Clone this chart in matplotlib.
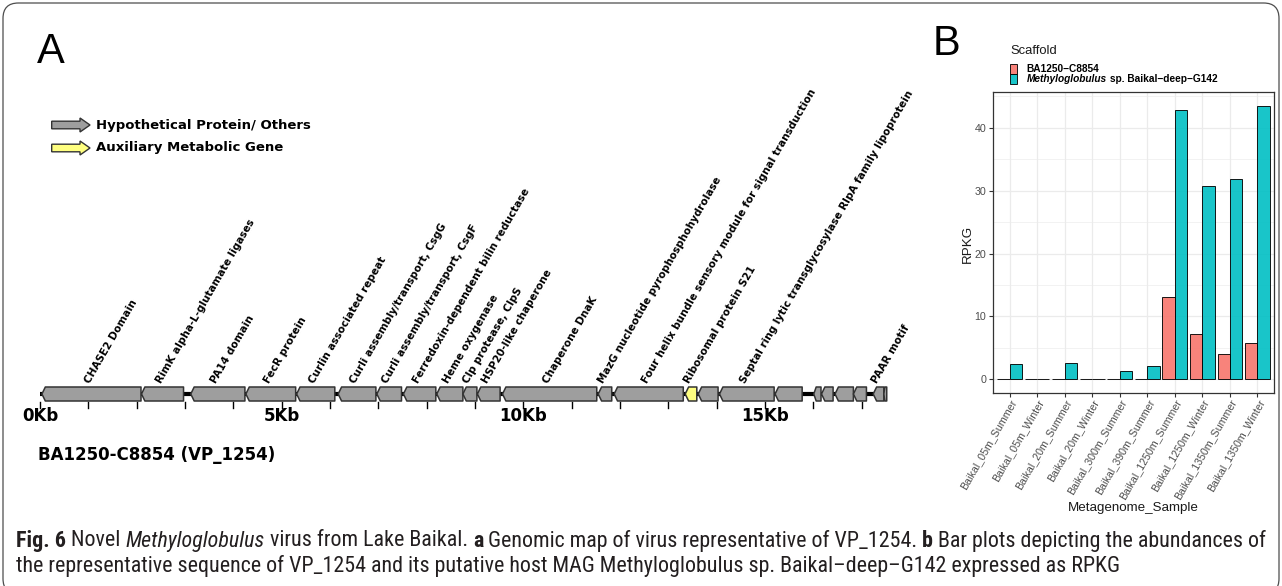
import matplotlib
matplotlib.use("Agg")
import matplotlib.pyplot as plt
import numpy as np
from matplotlib.patches import Polygon, Rectangle, FancyBboxPatch
from matplotlib.ticker import MultipleLocator
from matplotlib import font_manager

# ---------------- genome map data (positions in kb) ----------------
gene_start = [0.04, 2.10, 3.12, 4.26, 5.31, 6.17, 6.97, 7.52, 8.21, 8.75, 9.05, 9.57,
              11.55, 11.88, 13.35, 13.62, 14.06, 15.21, 16.01, 16.17, 16.45, 16.83,
              17.24, 17.46]
gene_end = [2.09, 2.97, 4.24, 5.29, 6.10, 6.95, 7.48, 8.19, 8.75, 9.04, 9.52, 11.52,
            11.83, 13.31, 13.59, 14.03, 15.19, 15.77, 16.16, 16.41, 16.83, 17.10,
            17.46, 17.52]
gene_label = ["CHASE2 Domain", "RimK alpha-L-glutamate ligases", "PA14 domain",
              "FecR protein", "Curlin associated repeat",
              "Curli assembly/transport, CsgG", "Curli assembly/transport, CsgF",
              "Ferredoxin-dependent bilin reductase", "Heme oxygenase",
              "Clp protease, ClpS", "HSP20-like chaperone", "Chaperone DnaK",
              "MazG nucleotide pyrophosphohydrolase",
              "Four helix bundle sensory module for signal transduction",
              "Ribosomal protein S21", "",
              "Septal ring lytic transglycosylase RlpA family lipoprotein",
              "", "", "", "", "", "PAAR motif", ""]
gene_class = ["other"] * 14 + ["amg"] + ["other"] * 9
genome_length = 17.52
scale_ticks = list(range(0, 18))
scale_labels = {0: "0Kb", 5: "5Kb", 10: "10Kb", 15: "15Kb"}
contig_name = "BA1250-C8854 (VP_1254)"
legend_entries = ["Hypothetical Protein/ Others", "Auxiliary Metabolic Gene"]

# ---------------- abundance data (RPKG) ----------------
samples = ["Baikal_05m_Summer", "Baikal_05m_Winter", "Baikal_20m_Summer",
           "Baikal_20m_Winter", "Baikal_300m_Summer", "Baikal_390m_Summer",
           "Baikal_1250m_Summer", "Baikal_1250m_Winter", "Baikal_1350m_Summer",
           "Baikal_1350m_Winter"]
rpkg_virus = [0.10, 0.02, 0.05, 0.02, 0.0, 0.0, 13.1, 7.2, 4.1, 5.8]
rpkg_host = [2.5, 0.05, 2.65, 0.05, 1.3, 2.05, 42.8, 30.8, 31.9, 43.5]
scaffold_names = ["BA1250\u2212C8854", "Methyloglobulus", " sp. Baikal\u2212deep\u2212G142"]

W, H = 1282, 586
fig = plt.figure(figsize=(W / 100, H / 100), dpi=100)
fig.patch.set_facecolor("white")


def fx(px):
    return px / W


def fy(py):
    return 1 - py / H


GREY = "#9e9e9e"
YELLOW = "#ffff80"
EDGE = "#333333"
fill = {"other": GREY, "amg": YELLOW}

# ---------------- panel A: genome map ----------------
ax = fig.add_axes([fx(20), fy(480), fx(900), fy(60) - fy(480)])
ax.set_xlim((20 - 40) / 48.33, (920 - 40) / 48.33)
ax.set_ylim(-86, 334)
ax.axis("off")

# backbone
ax.plot([0, genome_length], [0, 0], color="black", lw=3.0, solid_capstyle="butt", zorder=1)

hh = 7.0
for s, e, lab, cl in zip(gene_start, gene_end, gene_label, gene_class):
    hl = min(0.07, (e - s) / 3)
    verts = [(s, 0), (s + hl, hh), (e, hh), (e, -hh), (s + hl, -hh)]
    ax.add_patch(Polygon(verts, closed=True, facecolor=fill[cl], edgecolor=EDGE,
                         lw=1.1, joinstyle="round", zorder=2))
    if lab:
        ax.text((s + e) / 2, 9, lab, rotation=60, rotation_mode="anchor",
                ha="left", va="bottom", fontsize=7.45, fontweight="bold",
                family="DejaVu Sans", zorder=3)

# scale bar ticks
for t in scale_ticks:
    ax.plot([t, t], [-8, -14], color="black", lw=1.0, zorder=1)
    if t in scale_labels:
        ax.text(t, -22, scale_labels[t], ha="center", va="center", fontsize=12,
                fontweight="bold", family="DejaVu Sans")

ax.text(-0.04, -61, contig_name, ha="left", va="center", fontsize=12,
        fontweight="bold", family="DejaVu Sans")

# legend arrows
for (yc, col, txt) in [(269, GREY, legend_entries[0]), (246, YELLOW, legend_entries[1])]:
    x0, xh, x1 = 0.242, 0.828, 1.035
    bh, hh2 = 3.8, 7.0
    verts = [(x0, yc - bh), (xh, yc - bh), (xh, yc - hh2), (x1, yc),
             (xh, yc + hh2), (xh, yc + bh), (x0, yc + bh)]
    ax.add_patch(Polygon(verts, closed=True, facecolor=col, edgecolor=EDGE, lw=1.0))
    ax.text(1.159, yc, txt, ha="left", va="center", fontsize=9.5,
            fontweight="bold", family="DejaVu Sans")

# panel letters
fig.text(fx(37), fy(52), "A", fontsize=30, family="Liberation Sans",
         ha="left", va="center")
fig.text(fx(933), fy(44), "B", fontsize=30, family="Liberation Sans",
         ha="left", va="center")

# ---------------- panel B: abundance bars ----------------
RED = "#F8766D"
CYAN = "#00BFC4"
axb = fig.add_axes([fx(993), fy(393), fx(1274) - fx(993), fy(92) - fy(393)])
x = np.arange(len(samples))
bw = 0.45
axb.bar(x - bw / 2, rpkg_virus, width=bw, color=RED, alpha=0.9, edgecolor="black",
        linewidth=0.7, zorder=3)
axb.bar(x + bw / 2, rpkg_host, width=bw, color=CYAN, alpha=0.9, edgecolor="black",
        linewidth=0.7, zorder=3)
vmax = max(max(rpkg_virus), max(rpkg_host))
axb.set_ylim(-0.05 * vmax, 1.05 * vmax)
axb.set_xlim(-0.6, len(samples) - 0.4)
axb.set_axisbelow(True)
axb.yaxis.set_major_locator(MultipleLocator(10))
axb.yaxis.set_minor_locator(MultipleLocator(5))
axb.grid(which="major", color="#EBEBEB", lw=0.9, zorder=0)
axb.grid(which="minor", axis="y", color="#EBEBEB", lw=0.45, zorder=0)
axb.tick_params(which="minor", length=0)
axb.tick_params(which="major", length=2.75, width=0.8, color="#333333",
                labelsize=7.7, labelcolor="#4D4D4D", pad=2)
axb.tick_params(axis="x", pad=0.5)
axb.set_xticks(x)
axb.set_xticklabels(samples, rotation=60, ha="right", va="top",
                    rotation_mode="anchor", family="Liberation Sans")
for lbl in axb.get_yticklabels():
    lbl.set_family("Liberation Sans")
for sp in axb.spines.values():
    sp.set_color("#333333")
    sp.set_linewidth(0.9)

fig.text(fx(968), fy(244), "RPKG", rotation=90, ha="center", va="center",
         fontsize=9.6, family="Liberation Sans", color="#1a1a1a")
fig.text(fx(1133.5), fy(508), "Metagenome_Sample", ha="center", va="center",
         fontsize=9.6, family="Liberation Sans", color="#1a1a1a")

# legend for panel B
fig.text(fx(1010), fy(51), "Scaffold", ha="left", va="center", fontsize=9.4,
         family="Liberation Sans", color="#1a1a1a")
fig.add_artist(Rectangle((fx(1010), fy(73.5)), fx(7), fy(64) - fy(73.5),
                         transform=fig.transFigure, facecolor=RED, alpha=0.9,
                         edgecolor="black", lw=0.7))
fig.add_artist(Rectangle((fx(1010), fy(84)), fx(7), fy(74.5) - fy(84),
                         transform=fig.transFigure, facecolor=CYAN, alpha=0.9,
                         edgecolor="black", lw=0.7))

renderer = fig.canvas.get_renderer()


def measure(s, **kw):
    # width in pixels including trailing spaces
    t1 = fig.text(0, 0, s + "|", **kw)
    t2 = fig.text(0, 0, "|", **kw)
    w = t1.get_window_extent(renderer).width - t2.get_window_extent(renderer).width
    t1.remove()
    t2.remove()
    return w


def draw_runs(x_px, y_px, runs, size, family, color="black", stretch="normal"):
    xp = x_px
    for s, weight, style in runs:
        kw = dict(fontsize=size, family=family, fontweight=weight, fontstyle=style,
                  color=color, fontstretch=stretch)
        fig.text(fx(xp), fy(y_px), s, ha="left", va="center", **kw)
        xp += measure(s, **kw)
    return xp


draw_runs(1026.7, 69, [(scaffold_names[0], "bold", "normal")], 7.3, "Liberation Sans")
draw_runs(1026.7, 79.3, [(scaffold_names[1], "bold", "italic"),
                         (scaffold_names[2], "bold", "normal")], 7.3, "Liberation Sans")

# ---------------- caption ----------------
ttf = font_manager.fontManager.ttflist
names = {f.name for f in ttf}
cap_family, cap_stretch = "Liberation Sans", "normal"
for cand in ["Liberation Sans Narrow", "Roboto Condensed", "Open Sans Condensed"]:
    if cand in names:
        cap_family = cand
        break
else:
    if any(f.name == "DejaVu Sans" and str(f.stretch) in ("condensed", "semi-condensed")
           for f in ttf):
        cap_family, cap_stretch = "DejaVu Sans", "condensed"

line1 = [("Fig. 6", "bold", "normal"), (" Novel ", "normal", "normal"),
         ("Methyloglobulus", "normal", "italic"),
         (" virus from Lake Baikal. ", "normal", "normal"), ("a", "bold", "normal"),
         (" Genomic map of virus representative of VP_1254. ", "normal", "normal"),
         ("b", "bold", "normal"),
         (" Bar plots depicting the abundances of", "normal", "normal")]
line2 = [("the representative sequence of VP_1254 and its putative host MAG "
          "Methyloglobulus sp. Baikal\u2013deep\u2013G142 expressed as RPKG",
          "normal", "normal")]
base = 10.0
w1 = sum(measure(s, fontsize=base, family=cap_family, fontweight=wt, fontstyle=st,
                 fontstretch=cap_stretch)
         for s, wt, st in line1)
cap_size = base * (1249 / w1)
draw_runs(16, 541, line1, cap_size, cap_family, color="#231f20", stretch=cap_stretch)
draw_runs(16, 566, line2, cap_size, cap_family, color="#231f20", stretch=cap_stretch)

# frame
fig.add_artist(FancyBboxPatch((fx(3), fy(594)), fx(1276), fy(3) - fy(594),
                              boxstyle="round,pad=0,rounding_size=0.012",
                              transform=fig.transFigure, facecolor="none",
                              edgecolor="#4d4d4d", lw=0.9, mutation_aspect=W / H))

fig.savefig("out.png", dpi=100, facecolor="white")
